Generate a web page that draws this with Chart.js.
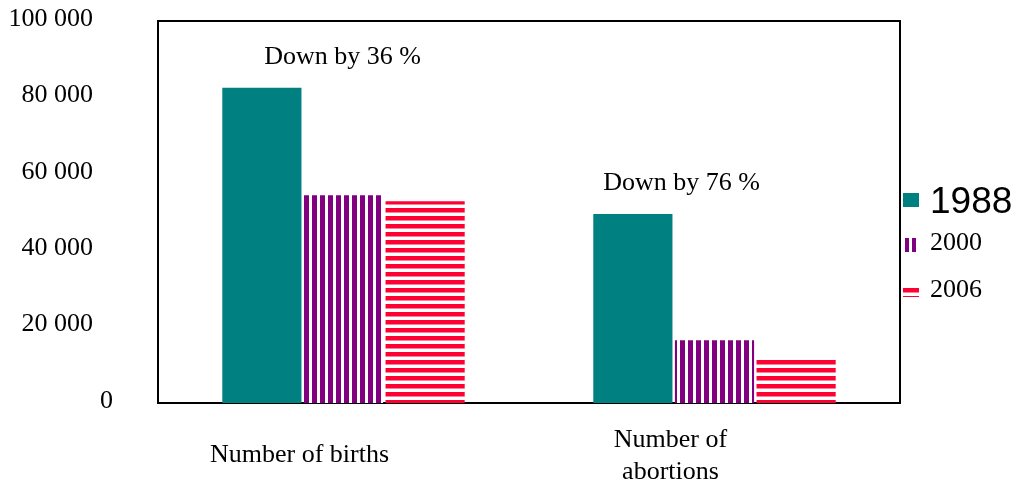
<!DOCTYPE html>
<html>
<head>
<meta charset="utf-8">
<script src="https://cdn.jsdelivr.net/npm/chart.js@4"></script>
<style>
  html, body { margin: 0; padding: 0; background: #fff; }
  canvas { display: block; }
</style>
</head>
<body>
<canvas id="myChart" width="1022" height="488"></canvas>
<script>
// data
const categories = ['Number of births', ['Number of', 'abortions']];
const years = ['1988', '2000', '2006'];
const values1988 = [82500, 49500];
const values2000 = [54400, 16400];
const values2006 = [52800, 11600];
const notes = ['Down by 36 %', 'Down by 76 %'];
const yTicks = [0, 20000, 40000, 60000, 80000, 100000];

const serif = '"Liberation Serif", "Times New Roman", serif';

function stripes(color, vertical) {
    const c = document.createElement('canvas');
    c.width = 8; c.height = 8;
    const g = c.getContext('2d');
    g.fillStyle = '#fff';
    g.fillRect(0, 0, 8, 8);
    g.fillStyle = color;
    if (vertical) g.fillRect(0, 0, 5, 8);
    else g.fillRect(0, 0, 8, 4.5);
    return g.createPattern(c, 'repeat');
}

function fmt(v) {
    return String(v).replace(/\B(?=(\d{3})+(?!\d))/g, ' ');
}

window.onload = () => {
    const canvas = document.getElementById('myChart');
    const ctx = canvas.getContext('2d');

    const fills = ['#008080', stripes('#800080', true), stripes('#ff0033', false)];

    const boxPlugin = {
        id: 'box',
        beforeDatasetsDraw(chart) {
            const a = chart.chartArea;
            const c = chart.ctx;
            c.save();
            c.strokeStyle = '#000';
            c.lineWidth = 2;
            c.strokeRect(a.left, a.top, a.right - a.left, a.bottom - a.top);
            c.restore();
        },
        afterDatasetsDraw(chart) {
            const c = chart.ctx;
            const x = chart.scales.x;
            const y = chart.scales.y;
            c.save();
            c.fillStyle = '#000';
            c.textBaseline = 'middle';
            c.font = '26px ' + serif;
            // y tick labels
            c.textAlign = 'right';
            yTicks.forEach(v => {
                const px = v === 0 ? 113 : 93;
                c.fillText(fmt(v), px, y.getPixelForValue(v) - 2);
            });
            c.textAlign = 'center';
            // notes above the 1988 bars
            const meta0 = chart.getDatasetMeta(0);
            notes.forEach((t, i) => {
                const bar = meta0.data[i];
                const dx = i === 0 ? -1 : -33;
                c.fillText(t, x.getPixelForValue(i) + dx, bar.y - 31);
            });
            // category labels under the plot
            categories.forEach((lab, i) => {
                const cx = x.getPixelForValue(i) - 44;
                const lines = Array.isArray(lab) ? lab : [lab];
                const top = lines.length === 1 ? 455 : 440;
                lines.forEach((ln, j) => c.fillText(ln, cx, top + j * 32));
            });
            // legend on the right
            const items = [
                {y: 203, font: '37px "Liberation Sans", Arial, sans-serif', box: [903, 193, 16, 14]},
                {y: 243, font: '26px ' + serif, box: [905, 238, 11, 14]},
                {y: 290, font: '26px ' + serif, box: [903, 286, 16, 11]}
            ];
            c.textAlign = 'left';
            items.forEach((it, i) => {
                c.fillStyle = fills[i];
                c.fillRect(...it.box);
                c.fillStyle = '#000';
                c.font = it.font;
                c.fillText(years[i], 930, it.y);
            });
            c.restore();
        }
    };

    const myChart = new Chart(ctx, {
        type: 'bar',
        data: {
            labels: categories,
            datasets: [
                {label: years[0], data: values1988, backgroundColor: fills[0]},
                {label: years[1], data: values2000, backgroundColor: fills[1]},
                {label: years[2], data: values2006, backgroundColor: fills[2]}
            ]
        },
        options: {
            responsive: false,
            animation: false,
            layout: {
                padding: {left: 10, right: 122, top: 21, bottom: 0}
            },
            datasets: {
                bar: {
                    categoryPercentage: 0.66,
                    barPercentage: 0.97
                }
            },
            plugins: {
                legend: {display: false},
                tooltip: {enabled: false}
            },
            scales: {
                x: {
                    grid: {display: false},
                    border: {display: false},
                    ticks: {display: false},
                    afterFit(s) { s.height = 85; }
                },
                y: {
                    min: 0,
                    max: 100000,
                    grid: {display: false},
                    border: {display: false},
                    ticks: {display: false, stepSize: 20000},
                    afterFit(s) { s.width = 148; }
                }
            }
        },
        plugins: [boxPlugin]
    });
};
</script>
</body>
</html>
